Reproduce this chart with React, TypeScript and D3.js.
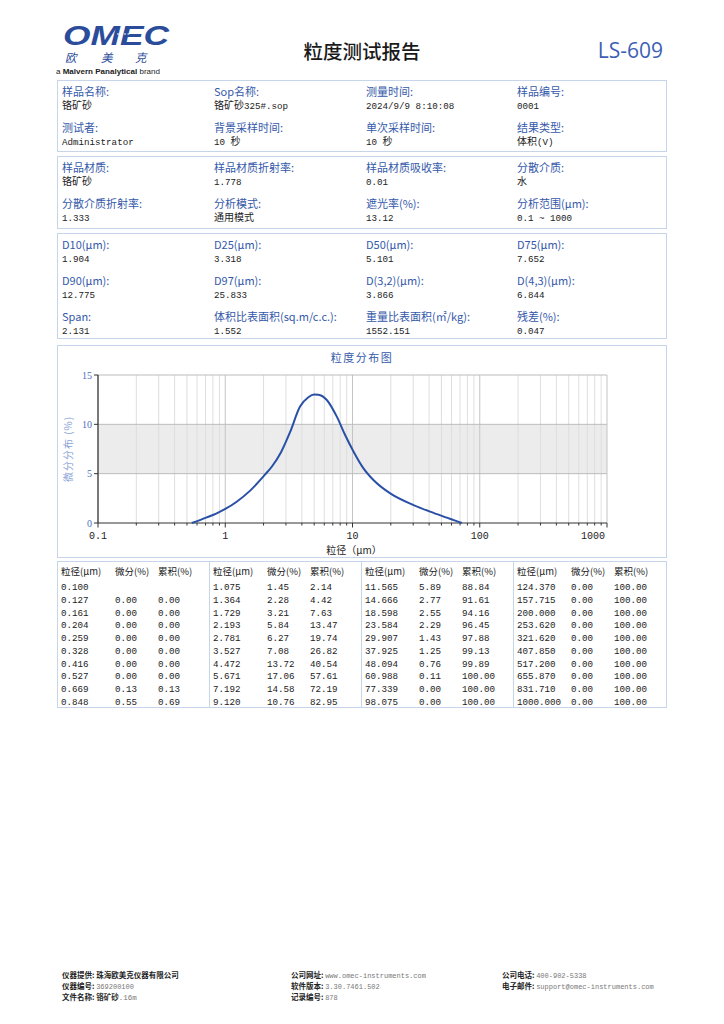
import React from "react";
import * as d3 from "d3";

// ---------- Data ----------
const reportTitle = "粒度测试报告";
const modelName = "LS-609";

const box1Labels = ["样品名称:", "Sop名称:", "测量时间:", "样品编号:", "测试者:", "背景采样时间:", "单次采样时间:", "结果类型:"];
const box1Values = ["铬矿砂", "铬矿砂325#.sop", "2024/9/9 8:10:08", "0001", "Administrator", "10 秒", "10 秒", "体积(V)"];

const box2Labels = ["样品材质:", "样品材质折射率:", "样品材质吸收率:", "分散介质:", "分散介质折射率:", "分析模式:", "遮光率(%):", "分析范围(μm):"];
const box2Values = ["铬矿砂", "1.778", "0.01", "水", "1.333", "通用模式", "13.12", "0.1 ~ 1000"];

const box3Labels = ["D10(μm):", "D25(μm):", "D50(μm):", "D75(μm):", "D90(μm):", "D97(μm):", "D(3,2)(μm):", "D(4,3)(μm):", "Span:", "体积比表面积(sq.m/c.c.):", "重量比表面积(㎡/kg):", "残差(%):"];
const box3Values = ["1.904", "3.318", "5.101", "7.652", "12.775", "25.833", "3.866", "6.844", "2.131", "1.552", "1552.151", "0.047"];

const chartTitle = "粒度分布图";
const yAxisTitle = "微分分布 (%)";
const xAxisTitle = "粒径（μm）";
const xTickValues = [0.1, 1, 10, 100, 1000];
const xTickLabels = ["0.1", "1", "10", "100", "1000"];
const yTickValues = [0, 5, 10, 15];

// distribution curve
const curveSize = [0.546, 0.716, 0.857, 1.0, 1.23, 1.57, 2.06, 2.32, 2.75, 3.23, 3.87, 4.5, 5.0, 5.39, 6.28, 7.53, 8.75, 10.2, 12.2, 14.6, 19.8, 30.2, 40.7, 55.1, 64.1, 72.3];
const curveValue = [0, 0.57, 0.98, 1.42, 2.16, 3.28, 4.93, 5.7, 7.2, 9.2, 11.8, 12.75, 13.02, 13.0, 12.47, 10.78, 8.92, 7.23, 5.54, 4.36, 3.0, 1.82, 1.15, 0.54, 0.24, 0];

const tableHeaders = ["粒径(μm)", "微分(%)", "累积(%)"];
const tableSizes = [
  0.1, 0.127, 0.161, 0.204, 0.259, 0.328, 0.416, 0.527, 0.669, 0.848,
  1.075, 1.364, 1.729, 2.193, 2.781, 3.527, 4.472, 5.671, 7.192, 9.12,
  11.565, 14.666, 18.598, 23.584, 29.907, 37.925, 48.094, 60.988, 77.339, 98.075,
  124.37, 157.715, 200.0, 253.62, 321.62, 407.85, 517.2, 655.87, 831.71, 1000.0,
];
const tableDiff: (number | null)[] = [
  null, 0, 0, 0, 0, 0, 0, 0, 0.13, 0.55,
  1.45, 2.28, 3.21, 5.84, 6.27, 7.08, 13.72, 17.06, 14.58, 10.76,
  5.89, 2.77, 2.55, 2.29, 1.43, 1.25, 0.76, 0.11, 0, 0,
  0, 0, 0, 0, 0, 0, 0, 0, 0, 0,
];
const tableCum: (number | null)[] = [
  null, 0, 0, 0, 0, 0, 0, 0, 0.13, 0.69,
  2.14, 4.42, 7.63, 13.47, 19.74, 26.82, 40.54, 57.61, 72.19, 82.95,
  88.84, 91.61, 94.16, 96.45, 97.88, 99.13, 99.89, 100, 100, 100,
  100, 100, 100, 100, 100, 100, 100, 100, 100, 100,
];

const footerLabels = ["仪器提供:", "仪器编号:", "文件名称:", "公司网址:", "软件版本:", "记录编号:", "公司电话:", "电子邮件:"];
const footerValues = ["珠海欧美克仪器有限公司", "369200100", "铬矿砂.16m", "www.omec-instruments.com", "3.30.7461.502", "878", "400-902-5338", "support@omec-instruments.com"];

// ---------- Styles ----------
const CJK = "'Noto Sans CJK SC', 'Noto Sans', sans-serif";
const MONO = "'Liberation Mono', 'Noto Sans CJK SC', monospace";
const BORDER = "#c6d5ea";
const LABEL_BLUE = "#3559aa";
const CURVE_BLUE = "#2a50a6";
const LOGO_BLUE = "#2b4c9b";

const colX = [62, 214, 366, 517];

// split mixed text into CJK / non-CJK runs so the CJK glyphs get a larger size
function MixedText({ x, y, text, size = 9.5, cjkSize = 10.5, fill = "#222" }: { x: number; y: number; text: string; size?: number; cjkSize?: number; fill?: string }) {
  const runs: { s: string; cjk: boolean }[] = [];
  for (const ch of text) {
    const cjk = /[\u3000-\u9fff\uff00-\uffef]/.test(ch);
    const last = runs[runs.length - 1];
    if (last && last.cjk === cjk) last.s += ch;
    else runs.push({ s: ch, cjk });
  }
  return (
    <text x={x} y={y} fill={fill} style={{ whiteSpace: "pre" }}>
      {runs.map((r, i) => (
        <tspan key={i} fontFamily={r.cjk ? CJK : MONO} fontSize={r.cjk ? cjkSize : size}>{r.s}</tspan>
      ))}
    </text>
  );
}

function InfoBox({ top, height, labels, values, rowStep }: { top: number; height: number; labels: string[]; values: string[]; rowStep: number }) {
  const rows = Math.ceil(labels.length / 4);
  const items = [];
  for (let r = 0; r < rows; r++) {
    for (let c = 0; c < 4; c++) {
      const i = r * 4 + c;
      const ly = top + 15.5 + r * rowStep;
      items.push(
        <g key={i}>
          <text x={colX[c]} y={ly} fontFamily={CJK} fontSize={11} fill={LABEL_BLUE}>{labels[i]}</text>
          <MixedText x={colX[c]} y={ly + 13.5} text={values[i]} size={9.2} cjkSize={10} />
        </g>
      );
    }
  }
  return (
    <g>
      <rect x={57.5} y={top + 0.5} width={609} height={height} fill="none" stroke={BORDER} />
      {items}
    </g>
  );
}

export default function App() {
  const x = d3.scaleLog().domain([0.1, 1000]).range([98, 607]);
  const y = d3.scaleLinear().domain([0, 15]).range([523, 375]);

  const minorTicks: number[] = [];
  [0.1, 1, 10, 100].forEach((d) => {
    for (let k = 2; k <= 9; k++) minorTicks.push(d * k);
  });

  const pts: [number, number][] = curveSize.map((s, i) => [s, curveValue[i]]);
  const line = d3
    .line<[number, number]>()
    .x((d) => x(d[0]))
    .y((d) => y(d[1]))
    .curve(d3.curveMonotoneX);

  const rowY = (r: number) => 590 + r * 12.75;

  return (
    <svg width={724} height={1024} style={{ position: "absolute", left: 0, top: 0, background: "#fff" }}>
      {/* Logo */}
      <text x={63} y={45} fontFamily="'Liberation Sans', sans-serif" fontWeight={700} fontStyle="italic" fontSize={28} fill={LOGO_BLUE} textLength={106} lengthAdjust="spacingAndGlyphs">OMEC</text>
      <line x1={117} y1={34} x2={130} y2={34} stroke="#fff" strokeWidth={1.2} strokeDasharray="2 1.5" />
      <text x={65} y={62} fontFamily={CJK} fontStyle="italic" fontSize={11.5} fill={LOGO_BLUE}>欧</text>
      <text x={101} y={62} fontFamily={CJK} fontStyle="italic" fontSize={11.5} fill={LOGO_BLUE}>美</text>
      <text x={135} y={62} fontFamily={CJK} fontStyle="italic" fontSize={11.5} fill={LOGO_BLUE}>克</text>
      <text x={56} y={73.5} fontFamily="'Liberation Sans', sans-serif" fontSize={7} fill="#222" textLength={104} lengthAdjust="spacingAndGlyphs">
        a <tspan fontWeight={700}>Malvern Panalytical</tspan> brand
      </text>

      {/* Title */}
      <text x={362} y={59} textAnchor="middle" fontFamily={CJK} fontWeight={500} fontSize={19.5} fill="#1a1a1a">{reportTitle}</text>
      <text x={663} y={58} textAnchor="end" fontFamily="'Open Sans', 'Liberation Sans', sans-serif" fontSize={21} fill="#3d5fb5">{modelName}</text>

      {/* Info boxes */}
      <InfoBox top={80} height={71} labels={box1Labels} values={box1Values} rowStep={36} />
      <InfoBox top={156} height={72} labels={box2Labels} values={box2Values} rowStep={36} />
      <InfoBox top={233} height={105} labels={box3Labels} values={box3Values} rowStep={36} />

      {/* Chart box */}
      <rect x={57.5} y={345.5} width={609} height={212} fill="none" stroke={BORDER} />
      <text x={362} y={362} textAnchor="middle" fontFamily={CJK} fontSize={11} letterSpacing={1.5} fill={LABEL_BLUE}>{chartTitle}</text>

      {/* band */}
      <rect x={x(0.1)} y={y(10)} width={x(1000) - x(0.1)} height={y(5) - y(10)} fill="#ececec" />
      {/* minor vertical grid */}
      {minorTicks.map((t) => (
        <line key={"m" + t} x1={x(t)} x2={x(t)} y1={y(15)} y2={y(0)} stroke="#dedede" strokeWidth={1} />
      ))}
      {xTickValues.map((t) => (
        <line key={"M" + t} x1={x(t)} x2={x(t)} y1={y(15)} y2={y(0)} stroke="#c4c4c4" strokeWidth={1} />
      ))}
      {yTickValues.slice(1).map((t) => (
        <line key={"h" + t} x1={x(0.1)} x2={x(1000)} y1={y(t)} y2={y(t)} stroke="#bcbcbc" strokeWidth={1} />
      ))}

      {/* axes */}
      <line x1={x(0.1)} x2={x(0.1)} y1={y(15)} y2={y(0)} stroke="#333" strokeWidth={1.2} />
      <line x1={x(0.1)} x2={x(1000)} y1={y(0)} y2={y(0)} stroke="#333" strokeWidth={1.2} />
      {yTickValues.map((t) => (
        <g key={"yt" + t}>
          <line x1={x(0.1) - 4} x2={x(0.1)} y1={y(t)} y2={y(t)} stroke="#333" />
          <text x={x(0.1) - 6} y={y(t) + 3.5} textAnchor="end" fontFamily="'Liberation Serif', serif" fontSize={10} fill="#4d6fc2">{t}</text>
        </g>
      ))}
      {minorTicks.map((t) => (
        <line key={"mt" + t} x1={x(t)} x2={x(t)} y1={y(0)} y2={y(0) + 2.5} stroke="#333" />
      ))}
      {xTickValues.map((t, i) => (
        <g key={"xt" + t}>
          <line x1={x(t)} x2={x(t)} y1={y(0)} y2={y(0) + 4.5} stroke="#333" />
          <text
            x={i === xTickValues.length - 1 ? x(t) - 2 : x(t)}
            y={539}
            textAnchor={i === xTickValues.length - 1 ? "end" : "middle"}
            fontFamily={MONO}
            fontSize={10}
            fill="#222"
          >
            {xTickLabels[i]}
          </text>
        </g>
      ))}
      <text x={354} y={554} textAnchor="middle" fontFamily={CJK} fontSize={10} fill="#222">{xAxisTitle}</text>
      <text transform={`translate(72, ${y(7.5)}) rotate(-90)`} textAnchor="middle" fontFamily={CJK} fontSize={10} letterSpacing={1} fill="#8aa3d8">{yAxisTitle}</text>

      {/* curve */}
      <path d={line(pts) || ""} fill="none" stroke={CURVE_BLUE} strokeWidth={2} />

      {/* Table */}
      <rect x={57.5} y={561.5} width={609} height={146} fill="none" stroke={BORDER} />
      {[1, 2, 3].map((g) => (
        <line key={"sep" + g} x1={57.5 + g * 152} x2={57.5 + g * 152} y1={561.5} y2={707.5} stroke={BORDER} />
      ))}
      {[0, 1, 2, 3].map((g) => {
        const gx = 57 + g * 152;
        return (
          <g key={"grp" + g}>
            {tableHeaders.map((h, j) => (
              <text key={h} x={gx + [4, 58, 101][j]} y={575} fontFamily={CJK} fontSize={9.5} fill="#222">{h}</text>
            ))}
            {d3.range(10).map((r) => {
              const idx = g * 10 + r;
              const dv = tableDiff[idx];
              const cv = tableCum[idx];
              return (
                <g key={"r" + idx}>
                  <text x={gx + 4} y={rowY(r)} fontFamily={MONO} fontSize={9.2} fill="#222">{tableSizes[idx].toFixed(3)}</text>
                  {dv !== null && <text x={gx + 58} y={rowY(r)} fontFamily={MONO} fontSize={9.2} fill="#222">{dv.toFixed(2)}</text>}
                  {cv !== null && <text x={gx + 101} y={rowY(r)} fontFamily={MONO} fontSize={9.2} fill="#222">{cv.toFixed(2)}</text>}
                </g>
              );
            })}
          </g>
        );
      })}

      {/* Footer */}
      {footerLabels.map((lab, i) => {
        const col = i < 3 ? 0 : i < 6 ? 1 : 2;
        const row = i < 6 ? i % 3 : i - 6;
        const fx = [62, 291, 502][col];
        const fy = 978 + row * 11;
        const val = footerValues[i];
        return (
          <text key={"f" + i} x={fx} y={fy} fontSize={7.5} fontFamily={CJK}>
            <tspan fontWeight={700} fill="#222">{lab} </tspan>
            {i === 0 ? (
              <tspan fontWeight={700} fill="#222">{val}</tspan>
            ) : i === 2 ? (
              <>
                <tspan fontWeight={700} fill="#333">{val.slice(0, 3)}</tspan>
                <tspan fontFamily={MONO} fill="#777">{val.slice(3)}</tspan>
              </>
            ) : (
              <tspan fontFamily={MONO} fontSize={7} fill="#777">{val}</tspan>
            )}
          </text>
        );
      })}
    </svg>
  );
}
